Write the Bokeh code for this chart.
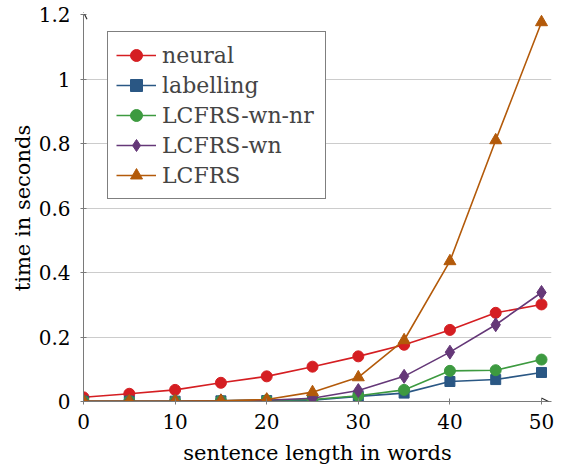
from bokeh.plotting import figure
from bokeh.models import Range1d, FixedTicker, CustomJSTickFormatter, Arrow, OpenHead, Legend, LegendItem
from bokeh.embed import file_html
from bokeh.resources import INLINE

# ---- data ----
lengths = [0, 5, 10, 15, 20, 25, 30, 35, 40, 45, 50]
neural = [0.013, 0.024, 0.036, 0.058, 0.078, 0.108, 0.140, 0.176, 0.222, 0.275, 0.301]
labelling = [0.001, 0.001, 0.001, 0.002, 0.003, 0.004, 0.016, 0.026, 0.062, 0.068, 0.090]
lcfrs_wn_nr = [0.001, 0.001, 0.001, 0.002, 0.004, 0.006, 0.018, 0.036, 0.095, 0.097, 0.130]
lcfrs_wn = [0.001, 0.001, 0.001, 0.002, 0.004, 0.010, 0.034, 0.078, 0.153, 0.238, 0.338]
lcfrs = [0.001, 0.001, 0.001, 0.002, 0.006, 0.029, 0.075, 0.190, 0.435, 0.810, 1.176]

x_ticks = [0, 10, 20, 30, 40, 50]
y_ticks = [0, 0.2, 0.4, 0.6, 0.8, 1.0, 1.2]

series = [
    ("neural", neural, "#d51e22", "circle", 11),
    ("labelling", labelling, "#2a5784", "square", 10),
    ("LCFRS-wn-nr", lcfrs_wn_nr, "#3d9a40", "circle", 11),
    ("LCFRS-wn", lcfrs_wn, "#653878", "diamond", 14),
    ("LCFRS", lcfrs, "#b35a0a", "triangle", 12),
]

FONT = "DejaVu Serif"

p = figure(width=565, height=473,
           x_range=Range1d(0, 51.09), y_range=Range1d(0, 1.2),
           output_backend="svg", toolbar_location=None,
           min_border_left=83, min_border_right=14, min_border_top=14, min_border_bottom=72)
p.outline_line_color = None
p.background_fill_color = "white"
p.border_fill_color = "white"
p.xgrid.visible = False
p.ygrid.grid_line_color = "#cccccc"
p.ygrid.grid_line_width = 1

for ax in (p.xaxis, p.yaxis):
    ax.axis_line_color = "#7a7a7a"
    ax.major_tick_line_color = "#7a7a7a"
    ax.minor_tick_line_color = None
    ax.major_tick_in = 3
    ax.major_tick_out = 3
    ax.major_label_text_font = FONT
    ax.major_label_text_font_size = "20px"
    ax.major_label_text_color = "black"
    ax.axis_label_text_font = FONT
    ax.axis_label_text_font_size = "21px"
    ax.axis_label_text_font_style = "normal"
    ax.axis_label_text_color = "black"

p.xaxis.ticker = FixedTicker(ticks=x_ticks)
p.yaxis.ticker = FixedTicker(ticks=y_ticks)
p.yaxis.formatter = CustomJSTickFormatter(code="return (Math.round(tick*10)/10).toString();")
p.xaxis.major_label_standoff = 9
p.yaxis.major_label_standoff = 10
p.xaxis.axis_label_standoff = 9
p.yaxis.axis_label_standoff = 1
p.xaxis.axis_label = "sentence length in words"
p.yaxis.axis_label = "time in seconds"

items = []
for name, vals, color, marker, size in series:
    r1 = p.line(lengths, vals, line_color=color, line_width=1.6)
    r2 = p.scatter(lengths, vals, marker=marker, size=size, fill_color=color, line_color=color)
    items.append(LegendItem(label=name, renderers=[r1, r2]))

# axis arrow heads
p.add_layout(Arrow(end=OpenHead(size=7, line_color="#333333", line_width=1.2),
                   x_start=0, y_start=1.18, x_end=0, y_end=1.207,
                   line_color="#7a7a7a", line_width=1))
p.add_layout(Arrow(end=OpenHead(size=7, line_color="#333333", line_width=1.2),
                   x_start=50, y_start=0, x_end=50.76, y_end=0,
                   line_color="#7a7a7a", line_width=1))

legend = Legend(items=items, location=(24, 202))
legend.label_text_font = FONT
legend.label_text_font_size = "22px"
legend.padding = 8
legend.spacing = 0
legend.glyph_width = 40
legend.glyph_height = 30
legend.label_height = 30
legend.label_width = 155
legend.label_standoff = 6
legend.border_line_color = "black"
legend.border_line_width = 1
legend.background_fill_alpha = 1
legend.margin = 0
p.add_layout(legend)

open("out.html", "w").write(file_html(p, INLINE))
